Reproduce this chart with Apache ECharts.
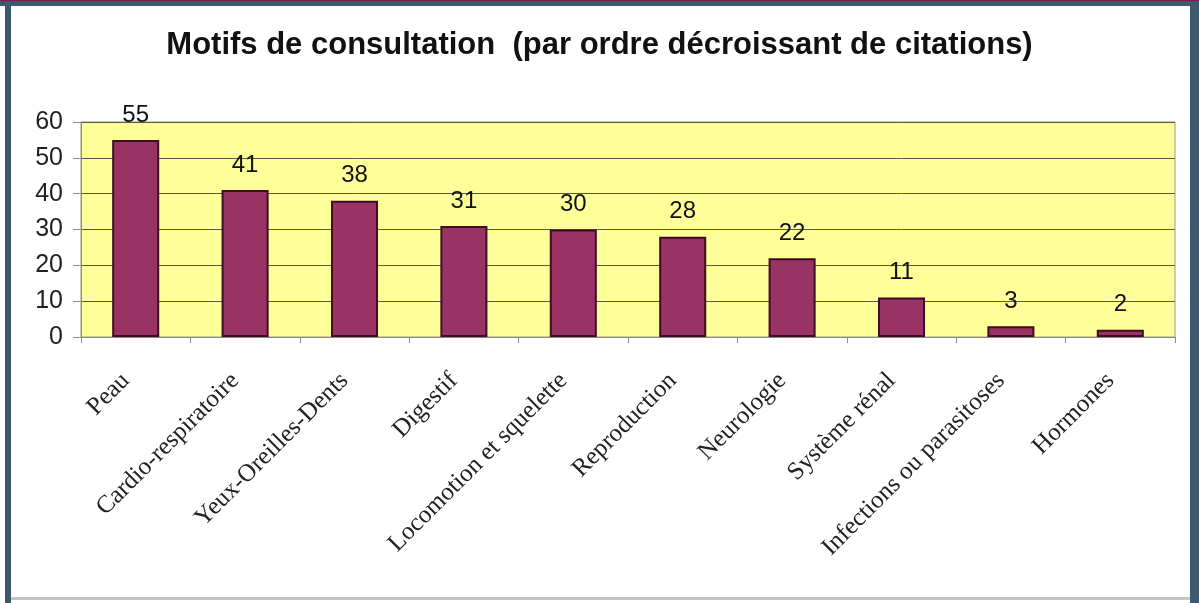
<!DOCTYPE html>
<html>
<head>
<meta charset="utf-8">
<title>Motifs de consultation</title>
<script src="https://cdn.jsdelivr.net/npm/echarts@6/dist/echarts.min.js"></script>
<style>
	html, body { margin: 0; padding: 0; background: #fff; }
	#main { position: absolute; left: 0; top: 0; width: 1199px; height: 603px; }
	.edge { position: absolute; }
</style>
</head>
<body>
<div id="main"></div>
<div class="edge" style="left:0;top:0;width:1199px;height:1px;background:#7a1f45;"></div>
<div class="edge" style="left:0;top:1px;width:1199px;height:5px;background:#3d5a6c;"></div>
<div class="edge" style="left:5px;top:1px;width:6px;height:602px;background:#3d5a6c;"></div>
<div class="edge" style="left:1190px;top:1px;width:9px;height:602px;background:#3d5a6c;"></div>
<div class="edge" style="left:11px;top:597px;width:1179px;height:3px;background:#c4c4c4;"></div>
<script>
	var categories = [ 'Peau', 'Cardio-respiratoire', 'Yeux-Oreilles-Dents', 'Digestif', 'Locomotion et squelette',
			'Reproduction', 'Neurologie', 'Système rénal', 'Infections ou parasitoses', 'Hormones' ];
	var citations = [ 55, 41, 38, 31, 30, 28, 22, 11, 3, 2 ];
	var yTicks = [ 0, 10, 20, 30, 40, 50, 60 ];

	var chart = echarts.init(document.getElementById('main'));
	var options = {
		animation : false,
		title : {
			text : 'Motifs de consultation  (par ordre décroissant de citations)',
			left : 'center',
			top : 25,
			textStyle : {
				fontFamily : 'Liberation Sans, Arial, sans-serif',
				fontWeight : 'bold',
				fontSize : 31,
				color : '#111'
			}
		},
		grid : {
			left : 81,
			right : 24,
			top : 122,
			bottom : 266,
			show : true,
			backgroundColor : '#FFFF99',
			borderColor : '#9a9a80',
			borderWidth : 1
		},
		xAxis : {
			type : 'category',
			data : categories,
			boundaryGap : true,
			axisLine : {
				lineStyle : { color : '#8a8a8a', width : 1 }
			},
			axisTick : {
				show : true,
				alignWithLabel : false,
				length : 6,
				lineStyle : { color : '#8a8a8a' }
			},
			axisLabel : {
				interval : 0,
				rotate : 45,
				margin : 30,
				padding : [ 0, 14, 0, 0 ],
				fontFamily : 'Liberation Serif, Times New Roman, serif',
				fontSize : 25,
				color : '#222'
			}
		},
		yAxis : {
			type : 'value',
			min : yTicks[0],
			max : yTicks[yTicks.length - 1],
			interval : 10,
			axisLine : {
				show : true,
				lineStyle : { color : '#8a8a8a' }
			},
			axisTick : {
				show : true,
				length : 8,
				lineStyle : { color : '#8a8a8a' }
			},
			axisLabel : {
				margin : 18,
				fontFamily : 'Liberation Sans, Arial, sans-serif',
				fontSize : 25,
				color : '#222'
			},
			splitLine : {
				lineStyle : { color : '#5a5a40', width : 1 }
			}
		},
		series : [ {
			type : 'bar',
			data : citations,
			barWidth : '43%',
			itemStyle : {
				color : '#993366',
				borderColor : '#3f0d22',
				borderWidth : 2
			},
			label : {
				show : true,
				position : 'top',
				distance : 13,
				fontFamily : 'Liberation Sans, Arial, sans-serif',
				fontSize : 24,
				color : '#111'
			}
		} ]
	};
	chart.setOption(options);
</script>
</body>
</html>
